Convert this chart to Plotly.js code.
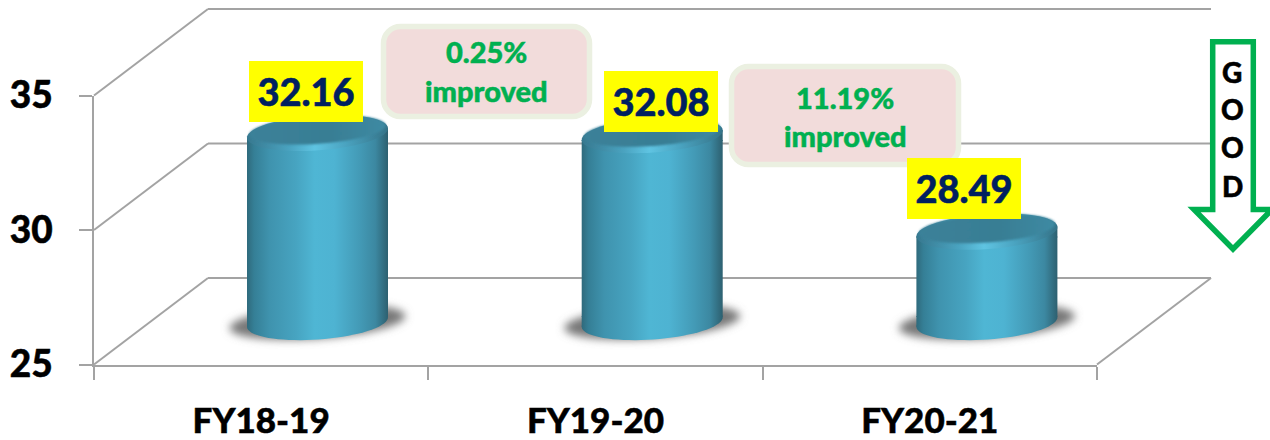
<!DOCTYPE html>
<html>
<head>
<meta charset="utf-8">
<script src="https://cdn.plot.ly/plotly-3.0.1.min.js"></script>
<style>html,body{margin:0;padding:0;background:#fff}#chart{width:1270px;height:440px}</style>
</head>
<body>
<div id="chart"></div>
<script>
// Chart values
const categories = ['FY18-19', 'FY19-20', 'FY20-21'];
const values = [32.16, 32.08, 28.49];
const yTicks = [25, 30, 35];
const improvementPercents = ['0.25%', '11.19%'];
const improvementWord = 'improved';
const directionLetters = ['G', 'O', 'O', 'D'];

// Canvas and front-plane geometry
const W = 1270, H = 440;
const FRONT = {left: 94, right: 1097, top: 95.5, bottom: 364.5};
const DEPTH = {dx: 114, dy: -86.5};
const pxPerUnit = (FRONT.bottom - FRONT.top) / (yTicks[2] - yTicks[0]);
const wallY = v => FRONT.bottom - (v - yTicks[0]) * pxPerUnit;
const px = x => x / W;
const py = y => 1 - y / H;

// Cylinders sit on their own full-canvas axes, pushed back into the box
const CYL = {x0: 317.5, step: 334.7, base25: 330.5, floor: 25.5, a: 70.7, b: 17.5, tilt: Math.atan(10 / 141), half: 70.5};
const cylRangeX = [-CYL.x0 / CYL.step, (W - CYL.x0) / CYL.step];
const cylRangeY = [25 - (H - CYL.base25) / pxPerUnit, 25 + CYL.base25 / pxPerUnit];

// Polyline for a tilted ellipse, in pixel offsets from its anchor (y up)
function ellipsePath(a, b, cy, cx) {
  const c = Math.cos(CYL.tilt), s = Math.sin(CYL.tilt);
  let d = '';
  for (let i = 0; i < 72; i++) {
    const t = i / 72 * 2 * Math.PI;
    const x = (cx || 0) + a * Math.cos(t) * c - b * Math.sin(t) * s;
    const y = cy + a * Math.cos(t) * s + b * Math.sin(t) * c;
    d += (i ? 'L' : 'M') + x.toFixed(2) + ',' + y.toFixed(2);
  }
  return d + 'Z';
}

const shapes = [];
const gradientByShape = {};
const shadowShapes = [];
const softShapes = [];

function wall(x0, y0, x1, y1) {
  shapes.push({type: 'line', xref: 'paper', yref: 'paper', layer: 'below',
    x0: px(x0), y0: py(y0), x1: px(x1), y1: py(y1), line: {color: '#a3a3a3', width: 2}});
}

// Back wall and floor lines
yTicks.forEach(v => {
  const y = wallY(v);
  wall(FRONT.left, y, FRONT.left + DEPTH.dx, y + DEPTH.dy);
  wall(FRONT.left + DEPTH.dx, y + DEPTH.dy, FRONT.right + DEPTH.dx, y + DEPTH.dy);
});
wall(FRONT.right, wallY(25), FRONT.right + DEPTH.dx, wallY(25) + DEPTH.dy);

function cylShape(cat, anchorValue, path, fill, gradient, layer) {
  shapes.push({type: 'path', xref: 'x2', yref: 'y2', xsizemode: 'pixel', ysizemode: 'pixel',
    xanchor: cat, yanchor: anchorValue, path: path, fillcolor: fill, line: {width: 0}, layer: layer || 'above'});
  if (gradient) gradientByShape[shapes.length - 1] = gradient;
  return shapes.length - 1;
}

// Soft floor shadows
categories.forEach((c, i) => {
  shadowShapes.push(cylShape(i, 25, ellipsePath(88, 16.5, 8.5, 0), '#777777', null, 'below'));
});

// End caps of each cylinder, placed at the value it states
categories.forEach((c, i) => {
  const h = CYL.half;
  cylShape(i, 25, ellipsePath(CYL.a, CYL.b, 8.5), '#4bb0cf', 'cylBody');
  cylShape(i, 25, `M${-h},14.5L${-h},3.5L${h},14.5Z`, '#4bb0cf', 'cylBody');
  cylShape(i, values[i], `M${-h},-1L${h},-1L${h},10L${-h},0Z`, '#4bb0cf', 'cylBody');
  cylShape(i, values[i], ellipsePath(CYL.a, CYL.b, 5), '#4ea8c6', 'cylRim');
  softShapes.push(cylShape(i, values[i], ellipsePath(CYL.a - 2.5, CYL.b - 3.6, 8), '#3a8199', 'cylTop'));
});

// Rounded callouts between the bars
function roundedBox(x0, y0, x1, y1, r) {
  const k = r * 0.45, X = px, Y = py;
  const pt = (x, y) => X(x) + ',' + Y(y);
  return 'M' + pt(x0 + r, y0) + 'L' + pt(x1 - r, y0) +
    'C' + pt(x1 - k, y0) + ' ' + pt(x1, y0 + k) + ' ' + pt(x1, y0 + r) +
    'L' + pt(x1, y1 - r) +
    'C' + pt(x1, y1 - k) + ' ' + pt(x1 - k, y1) + ' ' + pt(x1 - r, y1) +
    'L' + pt(x0 + r, y1) +
    'C' + pt(x0 + k, y1) + ' ' + pt(x0, y1 - k) + ' ' + pt(x0, y1 - r) +
    'L' + pt(x0, y0 + r) +
    'C' + pt(x0, y0 + k) + ' ' + pt(x0 + k, y0) + ' ' + pt(x0 + r, y0) + 'Z';
}
const calloutBoxes = [
  {x0: 383.5, y0: 26.5, x1: 589.5, y1: 116.5, textX: 486, lines: [52, 90]},
  {x0: 731.5, y0: 66.5, x1: 958.5, y1: 164.5, textX: 845, lines: [97, 135]}
];
calloutBoxes.forEach(b => {
  shapes.push({type: 'path', xref: 'paper', yref: 'paper', layer: 'above',
    path: roundedBox(b.x0, b.y0, b.x1, b.y1, 17), fillcolor: '#f2dcdb', line: {color: '#ebf0e1', width: 5.5}});
});

// "Lower is better" arrow
const arrowPts = [[1212.7, 41.7], [1253.3, 41.7], [1253.3, 209.5], [1272, 209.5], [1233, 249], [1194, 209.5], [1212.7, 209.5]];
shapes.push({type: 'path', xref: 'paper', yref: 'paper', layer: 'above',
  path: 'M' + arrowPts.map(p => px(p[0]) + ',' + py(p[1])).join('L') + 'Z',
  fillcolor: '#ffffff', line: {color: '#00b050', width: 5.5}});

// Text
const FONT = 'Lato, "Open Sans", sans-serif';
const annotations = [];
function note(x, y, text, size, color, extra) {
  annotations.push(Object.assign({xref: 'paper', yref: 'paper', x: px(x), y: py(y), text: text,
    showarrow: false, xanchor: 'center', yanchor: 'middle',
    font: {family: FONT, size: size, color: color, weight: 900}}, extra || {}));
}
const valueBoxes = [[306, 91.5], [661, 101.5], [964, 188]];
values.forEach((v, i) => {
  note(valueBoxes[i][0], valueBoxes[i][1], v.toFixed(2), 38, '#002060',
    {bgcolor: '#ffff00', width: 114, height: 60.5, borderpad: 0, borderwidth: 0, align: 'center', valign: 'middle'});
});
calloutBoxes.forEach((b, i) => {
  note(b.textX, b.lines[0], improvementPercents[i], 29, '#00b050');
  note(b.textX, b.lines[1], improvementWord, 29, '#00b050');
});
const letterY = [72, 109, 147, 186];
directionLetters.forEach((l, i) => note(1232, letterY[i], l, 28, '#000000'));

const traces = [{
  type: 'bar', x: categories, y: values.map(v => v - CYL.floor), base: CYL.floor,
  xaxis: 'x2', yaxis: 'y2', width: CYL.half * 2 / CYL.step,
  marker: {color: '#4bb0cf', line: {width: 0}}, hoverinfo: 'skip', showlegend: false
}, {
  // carries the visible front-plane axes
  type: 'scatter', mode: 'markers', x: categories, y: values, xaxis: 'x', yaxis: 'y',
  marker: {opacity: 0, size: 1}, hoverinfo: 'skip', showlegend: false
}];

const axisStyle = {showline: true, linecolor: '#a3a3a3', linewidth: 2, ticks: 'outside', ticklen: 13,
  tickcolor: '#a3a3a3', tickwidth: 2, showgrid: false, zeroline: false,
  tickfont: {family: FONT, size: 37, color: '#000000', weight: 900}};

const layout = {
  width: W, height: H, margin: {l: 0, r: 0, t: 0, b: 0},
  paper_bgcolor: '#ffffff', plot_bgcolor: 'rgba(0,0,0,0)', showlegend: false, hovermode: false,
  xaxis: Object.assign({}, axisStyle, {domain: [px(FRONT.left), px(FRONT.right)], anchor: 'y', type: 'category',
    categoryorder: 'array', categoryarray: categories, range: [-0.5, 2.5], tickson: 'boundaries',
    tickfont: {family: FONT, size: 35, color: '#000000', weight: 900}, ticklabelstandoff: 24}),
  yaxis: Object.assign({}, axisStyle, {domain: [py(FRONT.bottom), py(FRONT.top)], anchor: 'x', range: [25, 35],
    tickvals: yTicks, ticklabelstandoff: 19}),
  xaxis2: {visible: false, domain: [0, 1], anchor: 'y2', type: 'category', categoryorder: 'array',
    categoryarray: categories, range: cylRangeX, fixedrange: true},
  yaxis2: {visible: false, domain: [0, 1], anchor: 'x2', range: cylRangeY, fixedrange: true},
  shapes: shapes, annotations: annotations
};

// Shading and text weight that the shape, bar and font attributes cannot express
function addDefs(root) {
  const svg = root.querySelector('.main-svg');
  const NS = 'http://www.w3.org/2000/svg';
  const defs = document.createElementNS(NS, 'defs');
  const grads = {
    cylBody: [[0, '#2f6a7c'], [5, '#357f96'], [16, '#3f93ae'], [35, '#47a4c1'], [48, '#4fb6d4'], [62, '#4eb3d2'], [80, '#439ab6'], [91, '#3c88a1'], [100, '#2d6070']],
    cylRim: [[0, '#37788f'], [30, '#4aa3c0'], [48, '#5fc4e2'], [70, '#4aa3c0'], [100, '#357388']],
    cylTop: [[0, '#3b8199'], [60, '#397e94'], [100, '#3d8aa3']]
  };
  Object.keys(grads).forEach(id => {
    const g = document.createElementNS(NS, 'linearGradient');
    g.setAttribute('id', id);
    grads[id].forEach(s => {
      const st = document.createElementNS(NS, 'stop');
      st.setAttribute('offset', s[0] + '%');
      st.setAttribute('stop-color', s[1]);
      g.appendChild(st);
    });
    defs.appendChild(g);
  });
  function blurFilter(id, dev) {
    const f = document.createElementNS(NS, 'filter');
    f.setAttribute('id', id);
    f.setAttribute('x', '-20%'); f.setAttribute('y', '-60%');
    f.setAttribute('width', '140%'); f.setAttribute('height', '220%');
    const b = document.createElementNS(NS, 'feGaussianBlur');
    b.setAttribute('stdDeviation', dev);
    f.appendChild(b);
    defs.appendChild(f);
  }
  blurFilter('softShadow', '4');
  blurFilter('softEdge', '1');
  svg.insertBefore(defs, svg.firstChild);

  Object.keys(gradientByShape).forEach(i => {
    root.querySelectorAll('path[data-index="' + i + '"]').forEach(p => {
      p.style.fill = 'url(#' + gradientByShape[i] + ')';
    });
  });
  const applyFilter = (list, id) => list.forEach(i => {
    root.querySelectorAll('path[data-index="' + i + '"]').forEach(p => p.setAttribute('filter', 'url(#' + id + ')'));
  });
  applyFilter(shadowShapes, 'softShadow');
  applyFilter(softShapes, 'softEdge');
  root.querySelectorAll('.barlayer .point path').forEach(p => { p.style.fill = 'url(#cylBody)'; });
  root.querySelectorAll('.annotation-text, .xtick text, .ytick text').forEach(t => {
    t.style.stroke = t.style.fill;
    t.style.strokeWidth = '0.5px';
  });
}

Plotly.newPlot('chart', traces, layout, {displayModeBar: false, staticPlot: true})
  .then(gd => addDefs(gd));
</script>
</body>
</html>
